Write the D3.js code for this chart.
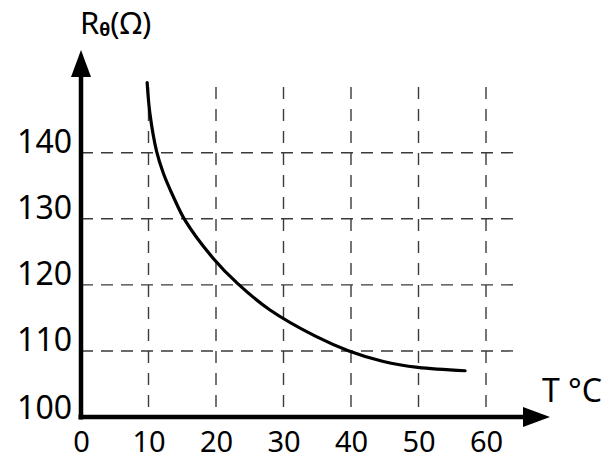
<!DOCTYPE html>
<html>
<head>
<meta charset="utf-8">
<script src="https://cdn.jsdelivr.net/npm/d3@7"></script>
<style>
  body { margin: 0; background: #fff; }
  svg text { font-family: "Noto Sans", "DejaVu Sans", sans-serif; fill: #000; }
</style>
</head>
<body>
<svg width="616" height="461"></svg>
<script>
// values
const tempTicks = [0, 10, 20, 30, 40, 50, 60];
const resTicks = [100, 110, 120, 130, 140];
const curveT = [9.8, 10.2, 11.2, 12.2, 13.7, 15.4, 19.6, 23.3, 28, 34.8, 39.7, 44.8, 49.9, 56.9];
const curveR = [150.6, 146, 140.2, 136.9, 133.3, 129.8, 124, 120.1, 116.2, 112.2, 110, 108.4, 107.5, 107];

const svg = d3.select("svg"),
      origin = {x: 81, y: 417};

const x = d3.scaleLinear().domain([0, 60]).range([origin.x, 486]);
const y = d3.scaleLinear().domain([100, 140]).range([origin.y, 152.7]);

// dashed grid
const grid = svg.append("g")
    .attr("stroke", "#3a3a3a")
    .attr("stroke-width", 1.4)
    .attr("fill", "none");

grid.selectAll("line.v")
  .data(tempTicks.filter(d => d > 0))
  .join("line")
    .attr("class", "v")
    .attr("x1", d => x(d)).attr("x2", d => x(d))
    .attr("y1", 87).attr("y2", origin.y)
    .attr("stroke-dasharray", "12,10");

grid.selectAll("line.h")
  .data(resTicks.filter(d => d > 100))
  .join("line")
    .attr("class", "h")
    .attr("x1", origin.x).attr("x2", 520)
    .attr("y1", d => y(d)).attr("y2", d => y(d))
    .attr("stroke-dasharray", "12,8");

// curve
const line = d3.line()
    .x(d => x(d[0]))
    .y(d => y(d[1]))
    .curve(d3.curveCatmullRom.alpha(0.5));

svg.append("path")
    .datum(curveT.map((t, i) => [t, curveR[i]]))
    .attr("d", line)
    .attr("fill", "none")
    .attr("stroke", "#000")
    .attr("stroke-width", 3.2)
    .attr("stroke-linecap", "round");

// tick labels through the axes
const xAxis = svg.append("g")
    .attr("transform", `translate(0,${origin.y})`)
    .call(d3.axisBottom(x).tickValues(tempTicks).tickSize(0).tickFormat(d3.format("d")));
xAxis.select(".domain").remove();
xAxis.selectAll("text")
    .attr("y", 35).attr("dy", 0)
    .style("font-size", "29px");

const yAxis = svg.append("g")
    .attr("transform", `translate(${origin.x},0)`)
    .call(d3.axisLeft(y).tickValues(resTicks).tickSize(0).tickPadding(9));
yAxis.select(".domain").remove();
yAxis.selectAll("text")
    .attr("dy", 0)
    .style("font-size", "32px");
yAxis.selectAll(".tick").filter(d => d === 100).select("text").attr("dy", 1);

// axes with arrows
svg.append("line")
    .attr("x1", origin.x).attr("x2", origin.x)
    .attr("y1", origin.y + 2.5).attr("y2", 74)
    .attr("stroke", "#000").attr("stroke-width", 4.5);
svg.append("path")
    .attr("d", `M${origin.x},50 L${origin.x - 10},77 L${origin.x + 10},77 Z`)
    .attr("fill", "#000");

svg.append("line")
    .attr("x1", origin.x - 2.5).attr("x2", 526)
    .attr("y1", origin.y).attr("y2", origin.y)
    .attr("stroke", "#000").attr("stroke-width", 4.5);
svg.append("path")
    .attr("d", `M550,${origin.y} L523,${origin.y - 10} L523,${origin.y + 10} Z`)
    .attr("fill", "#000");

// axis titles
const yTitle = svg.append("text")
    .attr("x", 80).attr("y", 34)
    .style("font-size", "31px");
yTitle.append("tspan").text("R");
yTitle.append("tspan").attr("dy", 2).style("font-size", "18px").style("font-weight", "bold").text("θ");
yTitle.append("tspan").attr("dy", -2).text("(Ω)");

svg.append("text")
    .attr("x", 542).attr("y", 402)
    .style("font-size", "32px")
    .text("T °C");
</script>
</body>
</html>
